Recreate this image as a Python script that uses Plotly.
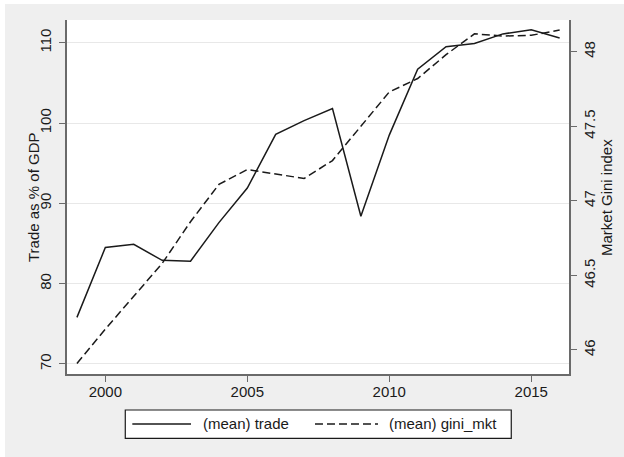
import plotly.graph_objects as go

years = list(range(1999, 2017))
trade = [75.8, 84.5, 84.9, 82.9, 82.8, 87.6, 91.9, 98.6, 100.3, 101.8, 88.4,
         98.5, 106.7, 109.5, 109.9, 111.1, 111.6, 110.6]
gini_mkt = [45.91, 46.14, 46.36, 46.58, 46.86, 47.11, 47.21, 47.18, 47.15, 47.27,
            47.50, 47.73, 47.82, 47.98, 48.12, 48.105, 48.11, 48.145]

left_ticks = [70, 80, 90, 100, 110]
right_ticks = [46, 46.5, 47, 47.5, 48]
x_ticks = [2000, 2005, 2010, 2015]

FONT = "Liberation Sans, Arial, sans-serif"
TXT = "#1a1a1a"
AX = "#6a6a6a"

fig = go.Figure()
fig.add_trace(go.Scatter(x=years, y=trade, mode="lines", name="(mean) trade",
                         line=dict(color="#1a1a1a", width=1.5), yaxis="y"))
fig.add_trace(go.Scatter(x=years, y=gini_mkt, mode="lines", name="(mean) gini_mkt",
                         line=dict(color="#1a1a1a", width=1.5, dash="8px,4px"), yaxis="y2"))

fig.update_layout(
    width=624, height=457,
    margin=dict(l=67, r=55, t=20, b=83),
    paper_bgcolor="#efefef", plot_bgcolor="white",
    showlegend=False,
    font=dict(family=FONT, size=15, color=TXT),
    xaxis=dict(range=[1998.65, 2016.33], tickvals=x_ticks, showgrid=False,
               zeroline=False, showline=True, linecolor=AX, linewidth=1.5,
               ticks="outside", ticklen=6, tickcolor=AX, tickwidth=1.2,
               ticklabelstandoff=-3,
               tickfont=dict(size=15, color=TXT)),
    yaxis=dict(range=[68.75, 112.83], tickvals=left_ticks, tickangle=-90,
               showgrid=True, gridcolor="#e8e8e8", gridwidth=1, zeroline=False,
               showline=True, linecolor=AX, linewidth=1.5,
               ticks="outside", ticklen=6, tickcolor=AX, tickwidth=1.2,
               ticklabelstandoff=2,
               tickfont=dict(size=15, color=TXT)),
    yaxis2=dict(range=[45.839, 48.2125], tickvals=right_ticks, tickangle=-90,
                overlaying="y", side="right", showgrid=False, zeroline=False,
                showline=True, linecolor=AX, linewidth=1.5,
                ticks="outside", ticklen=6, tickcolor=AX, tickwidth=1.2,
                tickfont=dict(size=15, color=TXT)),
)

# white outer margin strips (top and left) around the gray Stata frame
fig.add_shape(type="rect", xref="paper", yref="paper", x0=-0.14, x1=-0.1235,
              y0=-0.3, y1=1.1, fillcolor="white", line=dict(width=0), layer="above")
fig.add_shape(type="rect", xref="paper", yref="paper", x0=-0.14, x1=1.15,
              y0=1.0452, y1=1.1, fillcolor="white", line=dict(width=0), layer="above")

# axis titles
fig.add_annotation(text="Trade as % of GDP", xref="paper", yref="paper", x=-0.0677, y=0.5,
                   xanchor="center", yanchor="middle",
                   textangle=-90, showarrow=False, font=dict(size=15, color=TXT))
fig.add_annotation(text="Market Gini index", xref="paper", yref="paper", x=1.0737, y=0.5,
                   xanchor="center", yanchor="middle",
                   textangle=-90, showarrow=False, font=dict(size=15, color=TXT))

# legend box
fig.add_shape(type="rect", xref="paper", yref="paper", x0=0.1161, x1=0.885,
              y0=-0.1816, y1=-0.1017, fillcolor="white", line=dict(color="#1a1a1a", width=1.2))
fig.add_shape(type="line", xref="paper", yref="paper", x0=0.1301, x1=0.247,
              y0=-0.1412, y1=-0.1412, line=dict(color="#1a1a1a", width=1.5))
fig.add_shape(type="line", xref="paper", yref="paper", x0=0.494, x1=0.6195,
              y0=-0.1412, y1=-0.1412, line=dict(color="#1a1a1a", width=1.5, dash="8px,4px"))
fig.add_annotation(text="(mean) trade", xref="paper", yref="paper", x=0.2669, y=-0.1412,
                   xanchor="left", yanchor="middle", showarrow=False,
                   font=dict(size=15, color=TXT))
fig.add_annotation(text="(mean) gini_mkt", xref="paper", yref="paper", x=0.6369, y=-0.1412,
                   xanchor="left", yanchor="middle", showarrow=False,
                   font=dict(size=15, color=TXT))

fig.write_html("out.html", config={"displayModeBar": False},
               post_script="document.body.style.margin='0';")
